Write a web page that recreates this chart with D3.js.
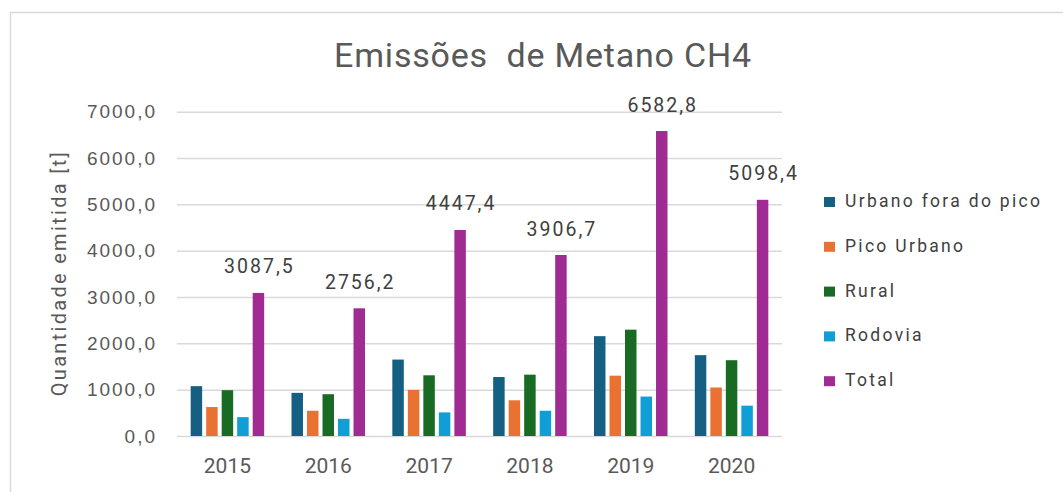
<!DOCTYPE html>
<html>
<head>
<meta charset="utf-8">
<script src="https://cdn.jsdelivr.net/npm/d3@7"></script>
<style>
  body { margin: 0; background: #fff; }
  svg { display: block; font-family: Roboto, 'Liberation Sans', sans-serif; }
</style>
</head>
<body>
<div class="chart"></div>
<script>
// values
const years = ['2015', '2016', '2017', '2018', '2019', '2020'];
const seriesNames = ['Urbano fora do pico', 'Pico Urbano', 'Rural', 'Rodovia', 'Total'];
const urbanoForaDoPico = [1076, 931, 1650, 1273, 2155, 1745];
const picoUrbano = [625, 545, 996, 771, 1302, 1047];
const rural = [989, 902, 1310, 1324, 2295, 1636];
const rodovia = [407, 371, 509, 545, 851, 655];
const total = [3087.5, 2756.2, 4447.4, 3906.7, 6582.8, 5098.4];
const yTicks = [0, 1000, 2000, 3000, 4000, 5000, 6000, 7000];

const colors = ['#156082', '#E97132', '#196B24', '#0F9ED5', '#A02B93'];
const allSeries = [urbanoForaDoPico, picoUrbano, rural, rodovia, total];

const W = 1063, H = 492;
const plot = { left: 177, right: 782, top: 111.7, bottom: 436 };

const svg = d3.select('.chart').append('svg').attr('width', W).attr('height', H);

// chart frame (only top/left visible in the crop)
svg.append('rect')
  .attr('x', 10.5).attr('y', 12.5)
  .attr('width', W + 20).attr('height', H + 20)
  .attr('fill', 'none').attr('stroke', '#d9d9d9').attr('stroke-width', 1.5);

const x0 = d3.scaleBand().domain(years).range([plot.left, plot.right]).padding(0);
const groupW = 73.5;
const x1 = d3.scaleBand().domain(seriesNames).range([0, groupW]).paddingInner(0.26);
const y = d3.scaleLinear().domain([0, 7000]).range([plot.bottom, plot.top]);

const fmt = (v) => d3.format('.1f')(v).replace('.', ',');

// grid + y labels
const yAxis = d3.axisLeft(y).tickValues(yTicks).tickSize(-(plot.right - plot.left)).tickFormat(fmt).tickPadding(20);
const gy = svg.append('g').attr('transform', `translate(${plot.left},0)`).call(yAxis);
gy.select('.domain').remove();
gy.selectAll('.tick line').attr('stroke', '#d9d9d9').attr('stroke-width', 1.5);
gy.selectAll('.tick text').attr('fill', '#595959').style('font-size', '19px').style('letter-spacing', '2px');

// bars
const rows = years.map((yr, i) => ({ year: yr, vals: allSeries.map((s, k) => ({ name: seriesNames[k], v: s[i], k })) }));
const groups = svg.selectAll('.grp').data(rows).enter().append('g')
  .attr('class', 'grp')
  .attr('transform', (d) => `translate(${x0(d.year) + (x0.bandwidth() - groupW) / 2},0)`);

groups.selectAll('rect').data((d) => d.vals).enter().append('rect')
  .attr('x', (d) => x1(d.name))
  .attr('y', (d) => y(d.v))
  .attr('width', x1.bandwidth())
  .attr('height', (d) => y(0) - y(d.v))
  .attr('fill', (d) => colors[d.k]);

// total labels
svg.selectAll('.lbl').data(total).enter().append('text')
  .attr('class', 'lbl')
  .attr('x', (d, i) => x0(years[i]) + (x0.bandwidth() - groupW) / 2 + x1('Total') + x1.bandwidth() / 2 + 1)
  .attr('y', (d) => y(d) - 19.5)
  .attr('text-anchor', 'middle')
  .attr('fill', '#404040')
  .style('font-size', '19.5px')
  .style('letter-spacing', '2px')
  .text(fmt);

// x labels
svg.selectAll('.xl').data(years).enter().append('text')
  .attr('class', 'xl')
  .attr('x', (d) => x0(d) + x0.bandwidth() / 2)
  .attr('y', 473)
  .attr('text-anchor', 'middle')
  .attr('fill', '#595959')
  .style('font-size', '21px')
  .text((d) => d);

// title
svg.append('text')
  .attr('x', 543).attr('y', 67)
  .attr('text-anchor', 'middle')
  .attr('fill', '#595959')
  .style('font-size', '34px')
  .style('letter-spacing', '0.8px')
  .style('white-space', 'pre')
  .text('Emissões  de Metano CH4');

// y axis title
svg.append('text')
  .attr('transform', 'translate(66,273) rotate(-90)')
  .attr('text-anchor', 'middle')
  .attr('fill', '#595959')
  .style('font-size', '20px')
  .style('letter-spacing', '2.3px')
  .text('Quantidade emitida [t]');

// legend
const leg = svg.selectAll('.leg').data(seriesNames).enter().append('g')
  .attr('class', 'leg')
  .attr('transform', (d, i) => `translate(824,${202 + i * 44.8})`);
leg.append('rect').attr('x', 0).attr('y', -5).attr('width', 11).attr('height', 10)
  .attr('fill', (d, i) => colors[i]);
leg.append('text').attr('x', 21).attr('y', 5)
  .attr('fill', '#404040').style('font-size', '17.5px').style('letter-spacing', '2.3px')
  .text((d) => d);
</script>
</body>
</html>
